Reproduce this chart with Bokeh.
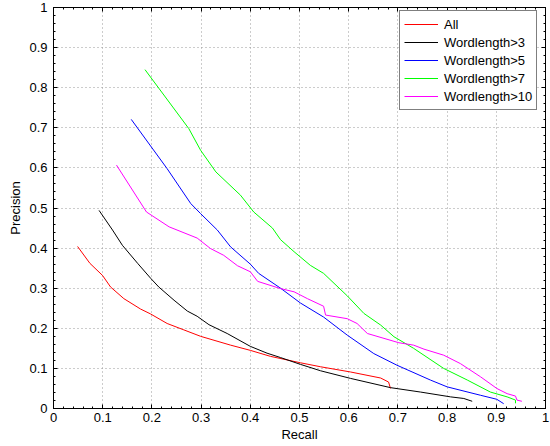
from bokeh.plotting import figure
from bokeh.models import LinearAxis, FixedTicker, Range1d, Legend, LegendItem
from bokeh.embed import file_html
from bokeh.resources import INLINE

# ---- data ----
recall_all = [0.049, 0.074, 0.0995, 0.116, 0.143, 0.177, 0.197, 0.231, 0.265, 0.299,
              0.360, 0.400, 0.441, 0.502, 0.543, 0.604, 0.665, 0.681, 0.685]
precision_all = [0.404, 0.362, 0.332, 0.303, 0.274, 0.248, 0.236, 0.212, 0.196, 0.180,
                 0.158, 0.145, 0.130, 0.114, 0.104, 0.091, 0.076, 0.066, 0.050]

recall_w3 = [0.0926, 0.120, 0.140, 0.171, 0.198, 0.214, 0.245, 0.272, 0.292, 0.316,
             0.353, 0.400, 0.434, 0.4615, 0.502, 0.543, 0.604, 0.685, 0.746, 0.807,
             0.834, 0.851]
precision_w3 = [0.494, 0.445, 0.407, 0.362, 0.324, 0.303, 0.270, 0.243, 0.230, 0.209,
                0.187, 0.155, 0.138, 0.127, 0.110, 0.094, 0.075, 0.052, 0.041, 0.029,
                0.025, 0.018]

recall_w5 = [0.158, 0.231, 0.279, 0.299, 0.333, 0.360, 0.400, 0.417, 0.4615, 0.502,
             0.549, 0.597, 0.651, 0.698, 0.766, 0.800, 0.868, 0.901, 0.915]
precision_w5 = [0.721, 0.598, 0.511, 0.486, 0.445, 0.403, 0.360, 0.337, 0.300, 0.263,
                0.228, 0.183, 0.137, 0.108, 0.071, 0.054, 0.033, 0.023, 0.012]

recall_w7 = [0.186, 0.275, 0.299, 0.330, 0.380, 0.407, 0.445, 0.4615, 0.489, 0.522,
             0.549, 0.597, 0.631, 0.665, 0.692, 0.732, 0.793, 0.841, 0.888, 0.922,
             0.939, 0.939]
precision_w7 = [0.845, 0.698, 0.644, 0.590, 0.532, 0.490, 0.450, 0.421, 0.391, 0.357,
                0.337, 0.281, 0.237, 0.208, 0.179, 0.150, 0.100, 0.071, 0.041, 0.029,
                0.021, 0.013]

recall_w10 = [0.128, 0.189, 0.235, 0.292, 0.319, 0.346, 0.374, 0.400, 0.415, 0.4615,
              0.489, 0.516, 0.549, 0.553, 0.597, 0.617, 0.638, 0.702, 0.732, 0.753,
              0.793, 0.827, 0.868, 0.901, 0.922, 0.939, 0.942, 0.952]
precision_w10 = [0.607, 0.490, 0.453, 0.425, 0.399, 0.382, 0.356, 0.341, 0.317, 0.299,
                 0.291, 0.274, 0.255, 0.233, 0.224, 0.212, 0.187, 0.164, 0.158, 0.148,
                 0.133, 0.112, 0.079, 0.050, 0.037, 0.031, 0.021, 0.018]

labels = ["All", "Wordlength>3", "Wordlength>5", "Wordlength>7", "Wordlength>10"]
colors = ["#ff0000", "#000000", "#0000ff", "#00ff00", "#ff00ff"]
tick_values = [0, 0.1, 0.2, 0.3, 0.4, 0.5, 0.6, 0.7, 0.8, 0.9, 1]
minor_values = [i / 50 for i in range(51)]

FONT = "Liberation Sans"

p = figure(width=550, height=446, output_backend="svg", toolbar_location=None,
           x_range=Range1d(0, 1), y_range=Range1d(0, 1),
           min_border_left=53, min_border_right=5, min_border_top=7, min_border_bottom=38,
           background_fill_color="white", border_fill_color="white")
p.outline_line_color = "black"

ticker = FixedTicker(ticks=tick_values, minor_ticks=minor_values)

def style_axis(ax, show_labels=True):
    ax.ticker = ticker
    ax.major_tick_in = 4
    ax.major_tick_out = 0
    ax.minor_tick_in = 2
    ax.minor_tick_out = 0
    ax.axis_line_color = "black"
    ax.major_tick_line_color = "black"
    ax.minor_tick_line_color = "black"
    ax.major_label_text_font = FONT
    ax.axis_label_text_font = FONT
    ax.axis_label_text_font_size = "13px"
    ax.axis_label_text_font_style = "normal"
    ax.axis_label_text_color = "black"
    if show_labels:
        ax.major_label_text_font_size = "13px"
        ax.major_label_text_color = "black"
    else:
        ax.major_label_text_font_size = "1px"
        ax.major_label_text_color = None
        ax.major_label_standoff = 0

style_axis(p.xaxis[0])
style_axis(p.yaxis[0])
p.xaxis[0].axis_label = "Recall"
p.yaxis[0].axis_label = "Precision"
p.xaxis[0].major_label_standoff = 4
p.xaxis[0].axis_label_standoff = 2
p.yaxis[0].major_label_standoff = 6
p.yaxis[0].axis_label_standoff = 3

top_ax = LinearAxis()
style_axis(top_ax, show_labels=False)
p.add_layout(top_ax, "above")
right_ax = LinearAxis()
style_axis(right_ax, show_labels=False)
p.add_layout(right_ax, "right")

for g in (p.xgrid[0], p.ygrid[0]):
    g.ticker = ticker
    g.grid_line_color = "#999999"
    g.grid_line_dash = "1 3"
    g.grid_line_width = 1

series = [(recall_all, precision_all), (recall_w3, precision_w3), (recall_w5, precision_w5),
          (recall_w7, precision_w7), (recall_w10, precision_w10)]
items = []
for (xs, ys), lab, col in zip(series, labels, colors):
    r = p.line(xs, ys, line_color=col, line_width=1)
    items.append(LegendItem(label=lab, renderers=[r]))

legend = Legend(items=items, location=(346, 298))
legend.border_line_color = "black"
legend.border_line_width = 1
legend.background_fill_color = "white"
legend.background_fill_alpha = 1
legend.label_text_font = FONT
legend.label_text_font_size = "13px"
legend.label_text_color = "black"
legend.glyph_width = 34
legend.glyph_height = 18
legend.label_height = 18
legend.label_standoff = 6
legend.spacing = 0
legend.padding = 4
legend.margin = 0
p.add_layout(legend, "center")

open("out.html", "w").write(file_html(p, INLINE))
